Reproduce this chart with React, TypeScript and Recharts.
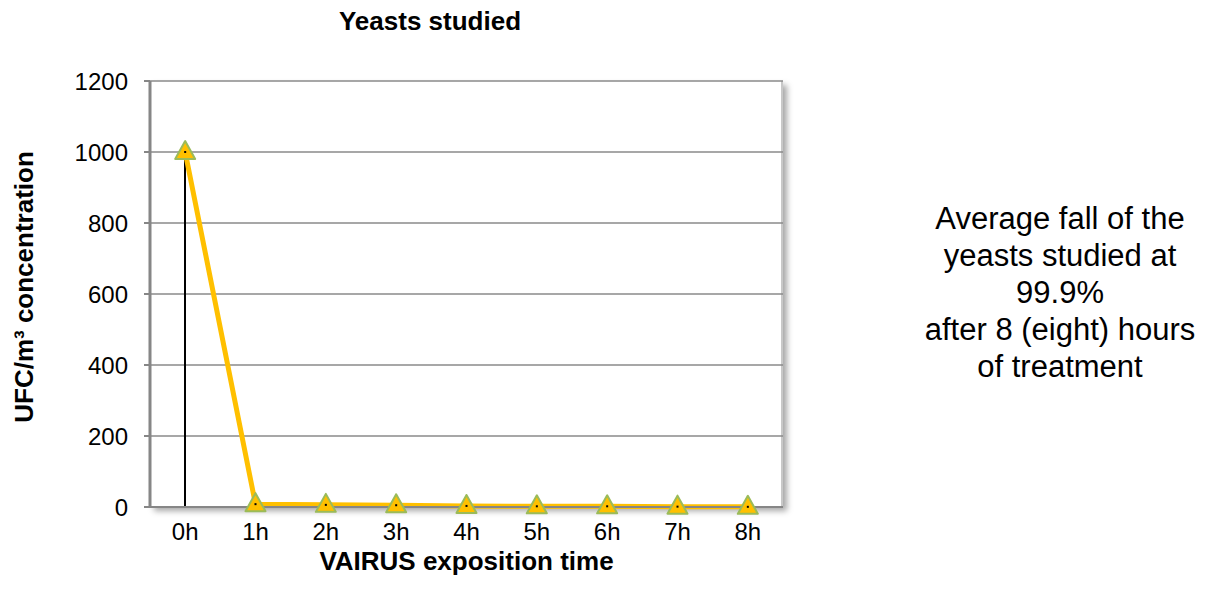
import {
  ComposedChart,
  Line,
  Bar,
  XAxis,
  YAxis,
  CartesianGrid,
  Label,
} from "recharts";

const hours = ["0h", "1h", "2h", "3h", "4h", "5h", "6h", "7h", "8h"];
const yeasts = [1000, 8, 6, 5, 3, 2, 2, 1, 0.5];
const dropLine = [1000, null, null, null, null, null, null, null, null];
const yTicks = [0, 200, 400, 600, 800, 1000, 1200];
const noteLines = [
  "Average fall of the",
  "yeasts studied at",
  "99.9%",
  "after 8 (eight) hours",
  "of treatment",
];

const data = hours.map((h, i) => ({ hour: h, yeasts: yeasts[i], drop: dropLine[i] }));

const font = "'Liberation Sans', Arial, sans-serif";

const Triangle = (props: any) => {
  const { cx, cy, index } = props;
  if (cx == null || cy == null) return <g key={index} />;
  return (
    <g key={index}>
      <polygon
        points={`${cx},${cy - 11} ${cx - 10},${cy + 7} ${cx + 10},${cy + 7}`}
        fill="#FFC000"
        stroke="#9BBB59"
        strokeWidth={2}
        strokeLinejoin="round"
      />
      <rect x={cx - 1} y={cy - 1} width={2} height={2} fill="#000" />
    </g>
  );
};

const XTitle = ({ viewBox }: any) => (
  <text
    x={viewBox.x + viewBox.width / 2}
    y={viewBox.y + 63}
    textAnchor="middle"
    fontWeight="bold"
    fontSize={26}
    fill="#000"
  >
    VAIRUS exposition time
  </text>
);

const YTitle = () => (
  <text
    transform="translate(25,279) rotate(-90)"
    textAnchor="middle"
    fontWeight="bold"
    fontSize={26}
    fill="#000"
  >
    UFC/m³ concentration
  </text>
);

export default function App() {
  return (
    <div style={{ position: "relative", width: 1215, height: 575, fontFamily: font }}>
      <div
        style={{
          position: "absolute",
          left: 142,
          top: 73,
          width: 633,
          height: 426,
          background: "#fff",
          borderRight: "2px solid #c8c8c8",
          boxShadow: "4px 4px 6px rgba(0,0,0,0.35)",
          boxSizing: "border-box",
        }}
      />
      <div
        style={{
          position: "absolute",
          left: 222,
          width: 400,
          top: 0,
          textAlign: "center",
          fontWeight: "bold",
          fontSize: 26,
          lineHeight: "26px",
          color: "#000",
        }}
      >
        Yeasts studied
      </div>
      <div
        style={{
          position: "absolute",
          left: 882,
          width: 340,
          top: 192,
          textAlign: "center",
          fontSize: 31,
          lineHeight: "37px",
          color: "#000",
        }}
      >
        {noteLines.map((t) => (
          <div key={t}>{t}</div>
        ))}
      </div>
      <ComposedChart
        width={1215}
        height={575}
        data={data}
        margin={{ top: 73, right: 440, bottom: 0, left: 0 }}
        style={{ position: "absolute", left: 0, top: 0, fontFamily: font }}
      >
        <CartesianGrid vertical={false} stroke="#8a8a8a" strokeWidth={1.5} />
        <XAxis
          dataKey="hour"
          height={76}
          axisLine={{ stroke: "#868686", strokeWidth: 2 }}
          tickLine={false}
          tick={{ fill: "#000", fontSize: 24 }}
          tickMargin={10}
        >
          <Label content={<XTitle />} />
        </XAxis>
        <YAxis
          width={142}
          domain={[0, 1200]}
          ticks={yTicks}
          axisLine={{ stroke: "#868686", strokeWidth: 3 }}
          tickLine={{ stroke: "#868686", strokeWidth: 2 }}
          tickSize={6}
          tickMargin={16}
          tick={{ fill: "#000", fontSize: 24 }}
        >
          <Label content={<YTitle />} />
        </YAxis>
        <Bar dataKey="drop" barSize={2} fill="#000" isAnimationActive={false} />
        <Line
          dataKey="yeasts"
          type="linear"
          stroke="#FFC000"
          strokeWidth={5}
          dot={Triangle}
          activeDot={false}
          isAnimationActive={false}
        />
      </ComposedChart>
    </div>
  );
}
